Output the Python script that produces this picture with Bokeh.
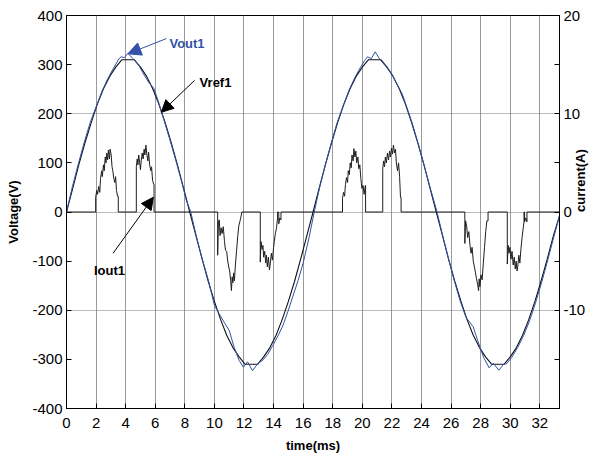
from math import pi
from bokeh.plotting import figure
from bokeh.models import (Range1d, LinearAxis, FixedTicker, Label, Arrow, NormalHead)
from bokeh.embed import file_html
from bokeh.resources import INLINE

# ---------------- data ----------------
x_ticks = [0, 2, 4, 6, 8, 10, 12, 14, 16, 18, 20, 22, 24, 26, 28, 30, 32]
v_ticks = [-400, -300, -200, -100, 0, 100, 200, 300, 400]
v_tick_labels = {-400: "-400", -300: "-300", -200: "-200", -100: "-100", 0: "0",
                 100: "100", 200: "200", 300: "300", 400: "400"}
i_ticks = [-20, -15, -10, -5, 0, 5, 10, 15, 20]
i_tick_labels = {-20: "", -15: "", -10: "-10", -5: "", 0: "0", 5: "", 10: "10", 15: "", 20: "20"}

t_ref = [0.0, 0.42, 0.83, 1.25, 1.67, 2.08, 2.5, 2.92, 3.33, 3.75, 4.17, 4.58, 5.0, 5.42,
         5.83, 6.25, 6.67, 7.08, 7.5, 7.92, 8.33, 8.75, 9.17, 9.58, 10.0, 10.42, 10.83,
         11.25, 11.67, 12.08, 12.5, 12.92, 13.33, 13.75, 14.17, 14.58, 15.0, 15.42, 15.83,
         16.25, 16.67, 17.08, 17.5, 17.92, 18.33, 18.75, 19.17, 19.58, 20.0, 20.42, 20.83,
         21.25, 21.67, 22.08, 22.5, 22.92, 23.33, 23.75, 24.17, 24.58, 25.0, 25.42, 25.83,
         26.25, 26.67, 27.08, 27.5, 27.92, 28.33, 28.75, 29.17, 29.58, 30.0, 30.42, 30.83,
         31.25, 31.67, 32.08, 32.5, 32.92, 33.33]
vref1 = [0, 48, 96, 141, 182, 219, 251, 276, 295, 310, 310, 310, 295, 276, 251, 219, 182,
         141, 96, 48, 0, -48, -96, -141, -182, -219, -251, -276, -295, -310, -310, -310,
         -295, -276, -251, -219, -182, -141, -96, -48,
         0, 48, 96, 141, 182, 219, 251, 276, 295, 310, 310, 310, 295, 276, 251, 219, 182,
         141, 96, 48, 0, -48, -96, -141, -182, -219, -251, -276, -295, -310, -310, -310,
         -295, -276, -251, -219, -182, -141, -96, -48, -8]

t_out = [0.0, 0.4, 0.8, 1.2, 1.6, 2.0, 2.4, 2.8, 3.2, 3.55, 3.7, 3.9, 4.15, 4.5, 4.9, 5.3,
         5.6, 5.9, 6.2, 6.6, 7.0, 7.4, 7.8, 8.1, 8.4, 8.8, 9.2, 9.6, 10.0, 10.3, 10.65,
         11.0, 11.33, 11.67, 11.96, 12.24, 12.58, 12.92, 13.26, 13.6, 13.94, 14.3, 14.62,
         15.0, 15.3, 15.65, 16.0, 16.4, 16.75,
         17.1, 17.5, 17.9, 18.3, 18.7, 19.1, 19.5, 19.9, 20.2, 20.35, 20.6, 20.87, 21.2,
         21.6, 22.0, 22.3, 22.7, 23.0, 23.4, 23.8, 24.2, 24.6, 25.05, 25.4, 25.8, 26.2,
         26.6, 27.0, 27.3, 27.5, 27.8, 28.2, 28.57, 28.85, 29.23, 29.55, 29.75, 30.1,
         30.5, 30.9, 31.3, 31.7, 32.1, 32.5, 32.9, 33.33]
vout1 = [0, 52, 98, 142, 182, 214, 246, 272, 294, 312, 316, 314, 323, 312, 298, 276,
         262, 252, 226, 186, 146, 104, 60, 24, 0, -52, -98, -140, -190, -206, -224,
         -241, -275, -302, -316, -305, -323, -309, -302, -290, -272, -252, -232,
         -200, -172, -140, -104, -52, 0,
         48, 96, 140, 182, 216, 248, 274, 296, 310, 316, 312, 326, 310,
         296, 280, 262, 240, 214, 178, 136, 92, 48, 0, -44, -92, -138,
         -180, -214, -226, -234, -262, -296, -317, -308, -322, -310, -309, -296,
         -276, -252, -222, -186, -146, -102, -56, -8]

t_cur = [0.0, 1.97, 1.97, 2.05, 2.1, 2.18, 2.25, 2.3, 2.38, 2.42, 2.5, 2.55, 2.62, 2.67,
         2.72, 2.78, 2.83, 2.9, 2.95, 3.02, 3.08, 3.13, 3.2, 3.27, 3.32, 3.38, 3.45, 3.5,
         3.5, 4.72, 4.72, 4.78, 4.83, 4.88, 4.95, 5.0, 5.05, 5.12, 5.18, 5.25, 5.3, 5.37,
         5.42, 5.5, 5.55, 5.62, 5.7, 5.75, 5.82, 5.9, 5.92, 5.92,
         10.22, 10.22, 10.27, 10.33, 10.38, 10.45, 10.52, 10.6, 10.68, 10.75, 10.83, 10.9,
         10.97, 11.03, 11.1, 11.15, 11.2, 11.25, 11.3, 11.35, 11.42, 11.5, 11.58, 11.65,
         11.75, 11.82, 11.85,
         13.1, 13.1, 13.15, 13.22, 13.28, 13.33, 13.4, 13.47, 13.52, 13.58, 13.65, 13.72,
         13.78, 13.85, 13.92, 14.0, 14.05, 14.12, 14.2, 14.27, 14.27, 14.35, 14.35, 14.42,
         14.5, 14.5,
         18.66, 18.66, 18.73, 18.8, 18.86, 18.93, 19.0, 19.05, 19.12, 19.18, 19.25, 19.3,
         19.38, 19.43, 19.5, 19.56, 19.62, 19.7, 19.76, 19.83, 19.9, 19.97, 20.05, 20.12,
         20.2, 20.22, 20.22,
         21.38, 21.38, 21.44, 21.5, 21.56, 21.62, 21.7, 21.77, 21.84, 21.9, 21.97, 22.04,
         22.1, 22.17, 22.24, 22.3, 22.38, 22.45, 22.52, 22.58, 22.62, 22.62,
         26.93, 26.93, 26.98, 27.05, 27.12, 27.2, 27.28, 27.35, 27.42, 27.5, 27.58, 27.65,
         27.72, 27.8, 27.86, 27.9, 27.95, 28.02, 28.1, 28.18, 28.26, 28.34, 28.42, 28.5,
         28.5,
         29.8, 29.8, 29.86, 29.92, 29.98, 30.05, 30.12, 30.2, 30.27, 30.34, 30.4, 30.46,
         30.52, 30.58, 30.65, 30.72, 30.8, 30.88, 30.93, 30.93, 30.97, 30.97, 31.05,
         31.13, 31.13, 33.33]
iout1 = [0, 0, 1.5, 2.2, 1.8, 2.6, 2.0, 3.4, 4.2, 3.6, 4.8, 4.2, 5.6, 5.0,
         6.0, 5.3, 6.3, 5.4, 6.4, 5.8, 4.6, 4.2, 3.4, 3.0, 3.6, 2.2, 1.6, 1.6,
         0, 0, 4.6, 5.4, 4.8, 5.8, 5.0, 4.3, 5.2, 6.0, 5.4, 6.4, 5.8, 6.8,
         6.0, 5.2, 6.1, 4.8, 4.2, 4.6, 3.2, 2.8, 2.8, 0,
         0, -4.4, -1.0, -0.8, -2.4, -1.6, -2.2, -1.5, -3.0, -3.9, -4.0, -5.0,
         -5.6, -6.0, -7.0, -8.0, -6.6, -7.2, -6.2, -7.0, -5.4, -3.9, -2.4, -1.4,
         -0.8, -0.3, 0,
         0, -5.1, -3.0, -3.8, -3.4, -4.6, -4.0, -5.2, -4.4, -5.6, -4.6, -5.9,
         -5.2, -4.2, -4.9, -3.6, -3.0, -2.2, -1.6, -0.6, 0, 0, -1.2, -0.6,
         -0.8, 0,
         0, 1.4, 2.0, 1.6, 2.8, 3.5, 3.0, 4.2, 3.8, 5.0, 4.5, 5.8,
         5.2, 6.45, 5.6, 6.2, 5.0, 5.6, 4.4, 4.8, 3.4, 2.4, 2.7, 1.8,
         2.7, 2.7, 0,
         0, 4.4, 5.2, 4.6, 5.6, 5.0, 6.0, 5.3, 6.2, 5.6, 6.5, 5.9,
         6.8, 6.0, 6.4, 5.0, 4.2, 5.0, 3.6, 1.5, 1.5, 0,
         0, -3.2, -0.9, -1.4, -2.6, -2.0, -3.4, -4.2, -3.6, -5.0, -5.6, -6.2,
         -6.8, -7.4, -8.0, -6.8, -7.6, -6.4, -6.9, -5.2, -3.6, -2.0, -0.9, -0.9,
         0,
         0, -5.3, -3.4, -4.2, -3.6, -4.8, -4.0, -5.4, -4.6, -5.8, -5.0, -6.0,
         -5.4, -4.4, -5.2, -3.8, -2.6, -1.6, -1.0, 0, 0, -1.0, -0.6,
         -1.0, 0, 0]

FONT = "Liberation Sans"
BLUE = "#3352a8"

p = figure(width=598, height=459, output_backend="svg", toolbar_location=None,
           x_range=Range1d(0, 33.33), y_range=Range1d(-400, 400),
           min_border_left=66, min_border_right=20, min_border_top=15, min_border_bottom=51)
p.background_fill_color = "white"
p.border_fill_color = "white"
p.outline_line_color = "black"
p.outline_line_width = 1

p.extra_y_ranges = {"cur": Range1d(-20, 20)}

# grids
p.xgrid.ticker = FixedTicker(ticks=x_ticks)
p.xgrid.grid_line_color = "#808080"
p.xgrid.grid_line_width = 0.8
p.ygrid.ticker = FixedTicker(ticks=[-200, 0, 200])
p.ygrid.grid_line_color = "#777777"
p.ygrid.grid_line_dash = "1 1"
p.ygrid.grid_line_width = 1

# axes
for ax in (p.xaxis[0], p.yaxis[0]):
    ax.major_tick_in = 5
    ax.major_tick_out = 0
    ax.minor_tick_in = 0
    ax.minor_tick_out = 0
    ax.axis_line_color = "black"
    ax.major_tick_line_color = "black"
    ax.major_label_text_font = FONT
    ax.major_label_text_font_size = "15px"
    ax.major_label_text_color = "black"
    ax.axis_label_text_font = FONT
    ax.axis_label_text_font_size = "13px"
    ax.axis_label_text_font_style = "bold"
    ax.axis_label_text_color = "black"

p.xaxis.ticker = FixedTicker(ticks=x_ticks)
p.yaxis.ticker = FixedTicker(ticks=v_ticks)
p.yaxis.major_label_overrides = v_tick_labels
p.xaxis.axis_label = "time(ms)"
p.yaxis.axis_label = "Voltage(V)"
p.xaxis.major_label_standoff = 9
p.xaxis.axis_label_standoff = 7
p.yaxis.major_label_standoff = 4
p.yaxis.axis_label_standoff = 8

rax = LinearAxis(y_range_name="cur", ticker=FixedTicker(ticks=i_ticks),
                 major_label_overrides=i_tick_labels, axis_label="current(A)")
rax.major_tick_in = 5
rax.major_tick_out = 0
rax.minor_tick_in = 0
rax.minor_tick_out = 0
rax.major_label_text_font = FONT
rax.major_label_text_font_size = "15px"
rax.major_label_text_color = "black"
rax.major_label_standoff = 4
rax.axis_label_text_font = FONT
rax.axis_label_text_font_size = "13px"
rax.axis_label_text_font_style = "bold"
rax.axis_label_text_color = "black"
rax.axis_label_text_line_height = 0.9
rax.axis_label_standoff = -8
if "axis_label_orientation" in LinearAxis.properties():
    rax.axis_label_orientation = pi / 2
p.add_layout(rax, "right")

# series
p.line(t_cur, iout1, y_range_name="cur", line_color="#1e1e1e", line_width=1)
p.line(t_ref, vref1, line_color="#111111", line_width=1.1)
p.line(t_out, vout1, line_color=BLUE, line_width=1)

# annotations
p.add_layout(Arrow(end=NormalHead(size=13, fill_color=BLUE, line_color=BLUE, line_width=1),
                   x_start=6.75, y_start=353, x_end=4.15, y_end=322,
                   line_color=BLUE, line_width=1))
p.add_layout(Label(x=6.96, y=343, text="Vout1", text_font=FONT, text_font_size="13px",
                   text_font_style="bold", text_color=BLUE, text_baseline="middle"))

p.add_layout(Arrow(end=NormalHead(size=12, fill_color="black", line_color="black", line_width=1),
                   x_start=8.66, y_start=268, x_end=6.41, y_end=203,
                   line_color="black", line_width=1))
p.add_layout(Label(x=9.0, y=264, text="Vref1", text_font=FONT, text_font_size="13px",
                   text_font_style="bold", text_color="black", text_baseline="middle"))

p.add_layout(Arrow(end=NormalHead(size=12, fill_color="black", line_color="black", line_width=1),
                   x_start=3.15, y_start=-84, x_end=5.87, y_end=30,
                   line_color="black", line_width=1))
p.add_layout(Label(x=1.86, y=-120, text="Iout1", text_font=FONT, text_font_size="13px",
                   text_font_style="bold", text_color="black", text_baseline="middle"))

open("out.html", "w").write(file_html(p, INLINE))
